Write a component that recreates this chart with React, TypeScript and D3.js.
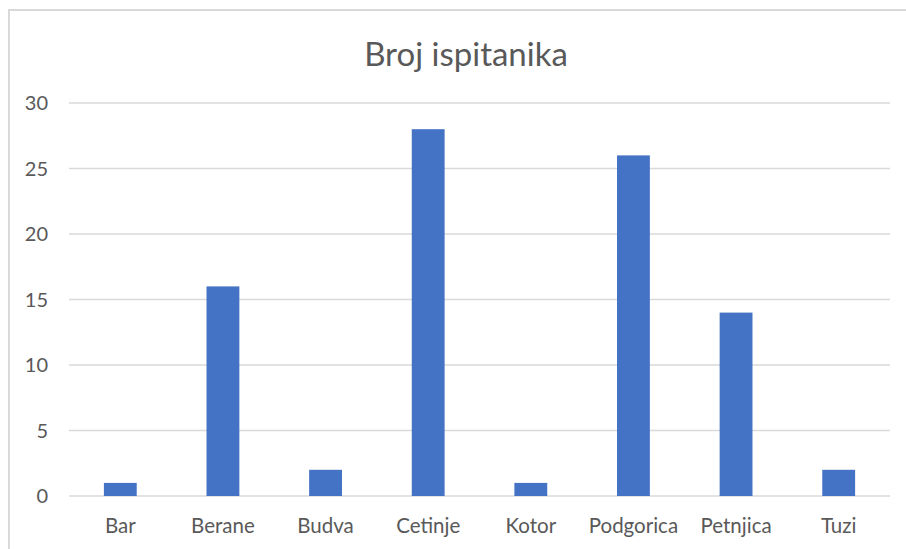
import React, { useEffect, useRef } from "react";
import * as d3 from "d3";

const cities = ["Bar", "Berane", "Budva", "Cetinje", "Kotor", "Podgorica", "Petnjica", "Tuzi"];
const counts = [1, 16, 2, 28, 1, 26, 14, 2];
const yTicks = [0, 5, 10, 15, 20, 25, 30];
const chartTitle = "Broj ispitanika";

const App = () => {
  const svgRef = useRef<SVGSVGElement>(null);

  useEffect(() => {
    const svg = d3.select(svgRef.current);
    svg.selectAll("*").remove();

    const width = 906;
    const height = 549;
    const margin = { top: 103, right: 16, bottom: 53, left: 69 };
    const font = "Lato, 'Open Sans', sans-serif";

    // outer frame, runs off the right and bottom edge
    svg
      .append("rect")
      .attr("x", 9)
      .attr("y", 10)
      .attr("width", width + 10)
      .attr("height", height + 10)
      .attr("fill", "white")
      .attr("stroke", "#d9d9d9")
      .attr("stroke-width", 2);

    const x = d3
      .scaleBand()
      .domain(cities)
      .range([margin.left, width - margin.right])
      .paddingInner(0.68)
      .paddingOuter(0.34);

    const y = d3
      .scaleLinear()
      .domain([0, 30])
      .range([height - margin.bottom, margin.top]);

    // gridlines
    svg
      .append("g")
      .selectAll("line")
      .data(yTicks)
      .enter()
      .append("line")
      .attr("x1", margin.left)
      .attr("x2", width - margin.right)
      .attr("y1", (d) => y(d))
      .attr("y2", (d) => y(d))
      .attr("stroke", "#d9d9d9")
      .attr("stroke-width", 1.5);

    // y tick labels
    svg
      .append("g")
      .selectAll("text")
      .data(yTicks)
      .enter()
      .append("text")
      .attr("x", 48)
      .attr("y", (d) => y(d))
      .attr("dy", "0.36em")
      .attr("text-anchor", "end")
      .style("font-family", font)
      .style("font-size", "20px")
      .attr("fill", "#595959")
      .text((d) => d);

    // bars
    svg
      .append("g")
      .selectAll("rect")
      .data(cities)
      .enter()
      .append("rect")
      .attr("x", (d) => x(d)!)
      .attr("y", (d, i) => y(counts[i]))
      .attr("width", x.bandwidth())
      .attr("height", (d, i) => y(0) - y(counts[i]))
      .attr("fill", "#4472c4");

    // x labels
    svg
      .append("g")
      .selectAll("text")
      .data(cities)
      .enter()
      .append("text")
      .attr("x", (d) => x(d)! + x.bandwidth() / 2)
      .attr("y", 533)
      .attr("text-anchor", "middle")
      .style("font-family", font)
      .style("font-size", "20.5px")
      .attr("fill", "#595959")
      .text((d) => d);

    svg
      .append("text")
      .attr("x", 466)
      .attr("y", 66)
      .attr("text-anchor", "middle")
      .style("font-family", font)
      .style("font-size", "33px")
      .attr("fill", "#595959")
      .text(chartTitle);
  }, []);

  return (
    <div style={{ position: "absolute", left: 0, top: 0 }}>
      <svg ref={svgRef} width="906" height="549" style={{ display: "block" }}></svg>
    </div>
  );
};

export default App;
